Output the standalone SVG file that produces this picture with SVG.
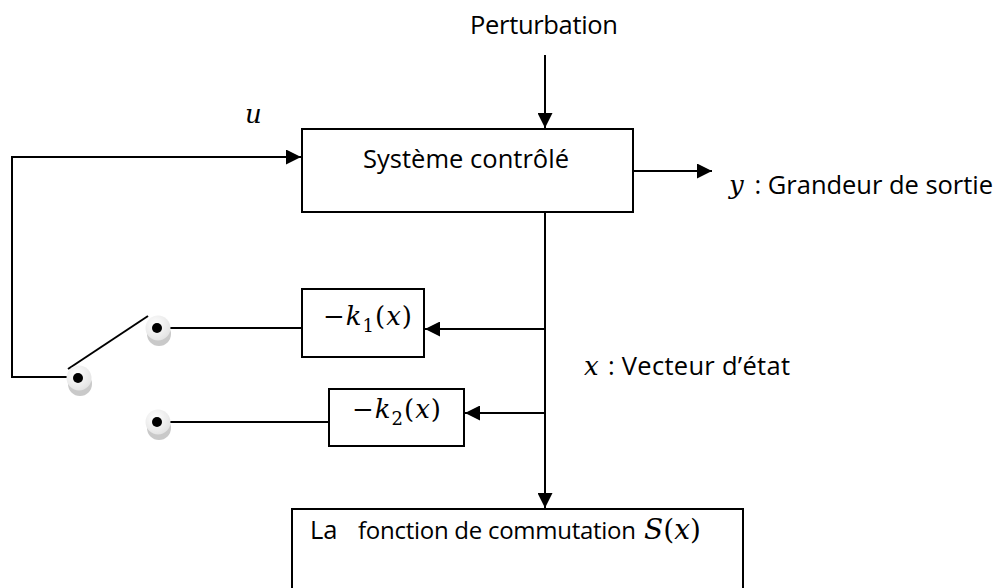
<svg xmlns="http://www.w3.org/2000/svg" width="999" height="588" viewBox="0 0 999 588">
<defs>
<style>
.box{fill:#fff;stroke:#000;stroke-width:2}
.ln{fill:none;stroke:#000;stroke-width:2}
.t{font-family:"Open Sans","Liberation Sans",sans-serif;font-size:25.5px;fill:#000}
.m{font-family:"DejaVu Serif","Liberation Serif",serif;font-style:italic;font-size:26px;fill:#000}
.mu{font-style:normal}
.sub{font-size:18px;font-style:normal}
</style>
<marker id="ah" viewBox="0 0 10 10" refX="10" refY="5" markerWidth="15" markerHeight="15" markerUnits="userSpaceOnUse" orient="auto">
<path d="M0,0 L10,5 L0,10 z" fill="#000"/>
</marker>
<radialGradient id="disc" cx="0.4" cy="0.35" r="0.7">
<stop offset="0" stop-color="#ffffff"/>
<stop offset="1" stop-color="#e2e2e2"/>
</radialGradient>
<g id="contact">
<ellipse cx="2" cy="6" rx="12" ry="12" fill="#c9c9c9"/>
<circle cx="1" cy="0" r="12.5" fill="url(#disc)"/>
<circle cx="0" cy="0" r="5" fill="#000"/>
</g>
</defs>

<g id="connectors">
<line class="ln" x1="545" y1="55" x2="545" y2="128" marker-end="url(#ah)"/>
<line class="ln" x1="633" y1="171" x2="712" y2="171" marker-end="url(#ah)"/>
<polyline class="ln" points="68,377 12,377 12,157 301,157" marker-end="url(#ah)"/>
<line class="ln" x1="68" y1="369" x2="148" y2="316"/>
<line class="ln" x1="545" y1="212" x2="545" y2="508" marker-end="url(#ah)"/>
<line class="ln" x1="545" y1="329" x2="425" y2="329" marker-end="url(#ah)"/>
<line class="ln" x1="545" y1="413" x2="465" y2="413" marker-end="url(#ah)"/>
<line class="ln" x1="165" y1="328" x2="302" y2="328"/>
<line class="ln" x1="165" y1="422" x2="329" y2="422"/>
</g>

<g id="contact-common"><use href="#contact" x="78" y="378"/></g>
<g id="contact-1"><use href="#contact" x="157" y="328"/></g>
<g id="contact-2"><use href="#contact" x="157" y="422"/></g>

<g id="perturbation">
<text class="t" x="470" y="34" textLength="148">Perturbation</text>
</g>

<g id="u-label">
<text class="m" x="245" y="123">u</text>
</g>

<g id="systeme">
<rect class="box" x="302" y="129" width="331" height="83"/>
<text class="t" x="363" y="168" textLength="206">Système contrôlé</text>
</g>

<g id="sortie">
<text class="m" x="729" y="194">y</text>
<text class="t" x="748" y="194" textLength="245" xml:space="preserve"> : Grandeur de sortie</text>
</g>

<g id="k1">
<rect class="box" x="302" y="289" width="122" height="68"/>
<text class="m" x="323" y="325" textLength="89"><tspan class="mu">−</tspan>k<tspan class="sub" dy="7">1</tspan><tspan class="mu" dy="-7">(</tspan>x<tspan class="mu">)</tspan></text>
</g>

<g id="k2">
<rect class="box" x="329" y="389" width="135" height="57"/>
<text class="m" x="352" y="418" textLength="89"><tspan class="mu">−</tspan>k<tspan class="sub" dy="7">2</tspan><tspan class="mu" dy="-7">(</tspan>x<tspan class="mu">)</tspan></text>
</g>

<g id="etat">
<text class="m" x="584" y="375">x</text>
<text class="t" x="601" y="375" textLength="189" xml:space="preserve"> : Vecteur d’état</text>
</g>

<g id="commutation">
<rect class="box" x="292" y="509" width="451" height="100"/>
<text class="t" x="310" y="539">La</text>
<text class="t" x="358" y="539" textLength="278" style="font-size:24px">fonction de commutation</text>
<text class="m" x="644" y="539" style="font-size:28px">S<tspan class="mu">(</tspan>x<tspan class="mu">)</tspan></text>
</g>
</svg>
